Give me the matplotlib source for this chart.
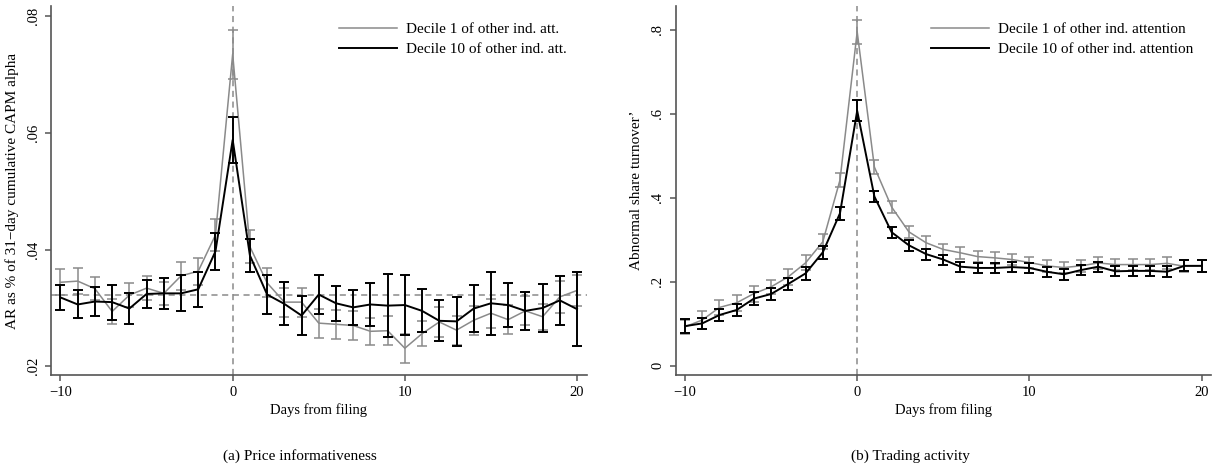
import numpy as np
import matplotlib.pyplot as plt

plt.rcParams['font.family'] = ['Liberation Serif', 'DejaVu Serif']
plt.rcParams['axes.unicode_minus'] = True

days = list(range(-10, 21))

# (a) price informativeness: AR as % of 31-day cumulative CAPM alpha
ar_d1 = [0.0344, 0.0346, 0.0333, 0.0294, 0.0322, 0.0334, 0.0325, 0.0355, 0.0363, 0.0425,
         0.0735, 0.0405, 0.0343, 0.0310, 0.0310, 0.0274, 0.0272, 0.0270, 0.0260, 0.0261,
         0.0231, 0.0256, 0.0276, 0.0262, 0.0279, 0.0291, 0.0280, 0.0295, 0.0285, 0.0319, 0.0330]
ar_d1_ci = [0.0022, 0.0022, 0.0020, 0.0021, 0.0020, 0.0020, 0.0020, 0.0024, 0.0023, 0.0027,
            0.0042, 0.0028, 0.0025, 0.0025, 0.0025, 0.0025, 0.0025, 0.0025, 0.0023, 0.0025,
            0.0025, 0.0022, 0.0025, 0.0025, 0.0025, 0.0025, 0.0025, 0.0025, 0.0022, 0.0027, 0.0027]
ar_d10 = [0.0318, 0.0306, 0.0311, 0.0310, 0.0299, 0.0324, 0.0325, 0.0325, 0.0332, 0.0397,
          0.0588, 0.0390, 0.0323, 0.0307, 0.0287, 0.0323, 0.0308, 0.0301, 0.0306, 0.0304,
          0.0305, 0.0295, 0.0278, 0.0277, 0.0299, 0.0308, 0.0305, 0.0295, 0.0300, 0.0313, 0.0298]
ar_d10_ci = [0.0022, 0.0024, 0.0025, 0.0030, 0.0026, 0.0024, 0.0027, 0.0031, 0.0030, 0.0032,
             0.0040, 0.0028, 0.0033, 0.0037, 0.0033, 0.0034, 0.0030, 0.0030, 0.0037, 0.0054,
             0.0051, 0.0037, 0.0035, 0.0042, 0.0040, 0.0054, 0.0038, 0.0033, 0.0041, 0.0042, 0.0064]
ar_mean = 0.0323

# (b) trading activity: abnormal share turnover
to_d1 = [0.093, 0.109, 0.139, 0.150, 0.172, 0.188, 0.212, 0.245, 0.295, 0.442,
         0.795, 0.473, 0.378, 0.319, 0.293, 0.277, 0.269, 0.260, 0.257, 0.253,
         0.246, 0.238, 0.234, 0.238, 0.245, 0.241, 0.241, 0.241, 0.244, 0.237, 0.238]
to_d1_ci = [0.017, 0.022, 0.017, 0.019, 0.019, 0.017, 0.019, 0.018, 0.018, 0.016,
            0.028, 0.016, 0.014, 0.015, 0.015, 0.014, 0.014, 0.014, 0.014, 0.014,
            0.014, 0.014, 0.014, 0.014, 0.014, 0.014, 0.014, 0.014, 0.014, 0.014, 0.014]
to_d10 = [0.0945, 0.101, 0.121, 0.133, 0.160, 0.171, 0.195, 0.220, 0.270, 0.363,
          0.607, 0.403, 0.318, 0.287, 0.266, 0.253, 0.236, 0.233, 0.233, 0.235,
          0.233, 0.224, 0.218, 0.228, 0.236, 0.225, 0.226, 0.226, 0.224, 0.238, 0.238]
to_d10_ci = [0.017, 0.014, 0.015, 0.014, 0.015, 0.015, 0.015, 0.015, 0.016, 0.015,
             0.025, 0.013, 0.013, 0.013, 0.013, 0.012, 0.012, 0.012, 0.012, 0.012,
             0.012, 0.012, 0.013, 0.012, 0.012, 0.012, 0.012, 0.012, 0.013, 0.013, 0.015]

gray = '#8a8a8a'
axc = '#555555'

fig = plt.figure(figsize=(12.15, 4.76), dpi=100)
ax1 = fig.add_axes([0.042, 0.212, 0.441, 0.775])
ax2 = fig.add_axes([0.556, 0.212, 0.441, 0.775])


def panel(ax, y1, e1, y10, e10, lab1, lab10, ylab, yticks, yticklabels, ylim, legx):
  ax.errorbar(days, y1, yerr=e1, color=gray, lw=1.1, elinewidth=1.1, capsize=3.5, capthick=1.1,
              label=lab1, zorder=3)
  ax.errorbar(days, y10, yerr=e10, color='black', lw=1.4, elinewidth=1.4, capsize=3.5, capthick=1.4,
              label=lab10, zorder=4)
  ax.axvline(0, color=gray, ls='--', lw=1.1, dashes=(4, 3), zorder=2)
  ax.set_xlim(-10.55, 20.57)
  ax.set_ylim(*ylim)
  ax.set_xticks([-10, 0, 10, 20])
  ax.set_xticklabels(['\u221210', '0', '10', '20'])
  ax.set_yticks(yticks)
  ax.set_yticklabels(yticklabels, rotation=90, va='center')
  for s in ['top', 'right']:
    ax.spines[s].set_visible(False)
  for s in ['left', 'bottom']:
    ax.spines[s].set_color(axc)
    ax.spines[s].set_linewidth(1.2)
  ax.tick_params(colors=axc, labelcolor='black', length=4, width=1.1, labelsize=10.5, pad=4)
  ax.set_xlabel('Days from filing', fontsize=10.5, labelpad=3)
  ax.set_ylabel(ylab, fontsize=11, labelpad=6)
  h, l = ax.get_legend_handles_labels()
  h = [x[0] for x in h]
  ax.legend(h, l, loc='upper left', bbox_to_anchor=(legx, 0.955), frameon=False, fontsize=11,
            handlelength=3.8, handletextpad=0.6, borderpad=0, borderaxespad=0, labelspacing=0.4)


panel(ax1, ar_d1, ar_d1_ci, ar_d10, ar_d10_ci,
      'Decile 1 of other ind. att.', 'Decile 10 of other ind. att.',
      'AR as % of 31\u2212day cumulative CAPM alpha',
      [0.02, 0.04, 0.06, 0.08], ['.02', '.04', '.06', '.08'], (0.0185, 0.0817), 0.537)
ax1.axhline(ar_mean, color=gray, ls='--', lw=1.1, dashes=(4, 3), zorder=2)

panel(ax2, to_d1, to_d1_ci, to_d10, to_d10_ci,
      'Decile 1 of other ind. attention', 'Decile 10 of other ind. attention',
      'Abnormal share turnover\u2019',
      [0, 0.2, 0.4, 0.6, 0.8], ['0', '.2', '.4', '.6', '.8'], (-0.022, 0.856), 0.476)

fig.text(300 / 1215, 1 - 456 / 476, '(a) Price informativeness', ha='center', va='center', fontsize=11)
fig.text(910 / 1215, 1 - 456 / 476, '(b) Trading activity', ha='center', va='center', fontsize=11)

fig.savefig('out.png', dpi=100)
